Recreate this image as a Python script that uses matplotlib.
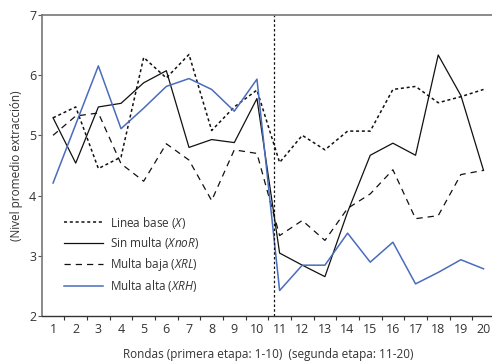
import numpy as np
import matplotlib
matplotlib.use('Agg')
import matplotlib.pyplot as plt

plt.rcParams['font.family'] = ['Open Sans', 'DejaVu Sans']
plt.rcParams['mathtext.fontset'] = 'custom'
plt.rcParams['mathtext.it'] = 'Open Sans:italic'
plt.rcParams['mathtext.rm'] = 'Open Sans'

# Rondas
rondas = list(range(1, 21))

# Linea base (X)
linea_base = [5.29, 5.47, 4.45, 4.64, 6.29, 5.95, 6.34, 5.08, 5.47, 5.75,
              4.55, 5.00, 4.76, 5.07, 5.07, 5.76, 5.81, 5.54, 5.64, 5.76]
# Sin multa (XnoR)
sin_multa = [5.29, 4.54, 5.47, 5.53, 5.87, 6.07, 4.80, 4.93, 4.88, 5.61,
             3.05, 2.85, 2.66, 3.73, 4.67, 4.87, 4.67, 6.33, 5.66, 4.42]
# Multa baja (XRL)
multa_baja = [5.00, 5.32, 5.37, 4.53, 4.24, 4.86, 4.59, 3.92, 4.76, 4.70,
              3.34, 3.59, 3.26, 3.79, 4.03, 4.43, 3.62, 3.67, 4.35, 4.42]
# Multa alta (XRH)
multa_alta = [4.21, 5.18, 6.15, 5.11, 5.45, 5.81, 5.94, 5.76, 5.40, 5.93,
              2.43, 2.85, 2.85, 3.38, 2.90, 3.23, 2.54, 2.73, 2.94, 2.79]

corte_etapa = 10.75

fig = plt.figure(figsize=(4.92, 3.64), dpi=100)
ax = fig.add_axes([0.0848, 0.1305, 0.921, 0.8295])

ax.plot(rondas, linea_base, color='#111111', lw=1.1, dashes=(2, 1.8), label='Linea base ($\\mathit{X}$)')
ax.plot(rondas, sin_multa, color='#111111', lw=0.9, label='Sin multa ($\\mathit{XnoR}$)')
ax.plot(rondas, multa_baja, color='#111111', lw=0.9, dashes=(5, 4), label='Multa baja ($\\mathit{XRL}$)')
ax.plot(rondas, multa_alta, color='#4a6cbc', lw=1.1, label='Multa alta ($\\mathit{XRH}$)')

ax.axvline(corte_etapa, color='#111111', lw=0.9, dashes=(2, 1.8))

ax.set_xlim(0.5, 20.5)
ax.set_ylim(2, 7)
ax.set_xticks(rondas)
ax.set_xticks(np.arange(1.5, 20.5, 1), minor=True)
ax.tick_params(axis='x', which='major', length=0, pad=5, labelsize=9, labelcolor='#333333')
ax.tick_params(axis='x', which='minor', length=3, width=0.8, color='#333333')
ax.set_yticks([2, 3, 4, 5, 6, 7])
ax.tick_params(axis='y', length=3, width=0.8, pad=1, labelsize=9, labelcolor='#333333', color='#555555')

for s in ['left', 'top']:
    ax.spines[s].set_color('#777777')
    ax.spines[s].set_linewidth(1.2)
ax.spines['bottom'].set_color('#333333')
ax.spines['bottom'].set_linewidth(1.0)
ax.spines['right'].set_visible(False)

ax.set_xlabel('Rondas (primera etapa: 1-10)  (segunda etapa: 11-20)', fontsize=8.5, color='#333333', labelpad=8)
ax.set_ylabel('(Nivel promedio extracción)', fontsize=8.5, color='#333333', labelpad=4)

leg = ax.legend(loc='lower left', bbox_to_anchor=(0.025, 0.04), frameon=False, fontsize=8.5,
                handlelength=3.3, handletextpad=0.6, labelspacing=0.4)
for t in leg.get_texts():
    t.set_color('#333333')

fig.savefig('out.png', dpi=100)
